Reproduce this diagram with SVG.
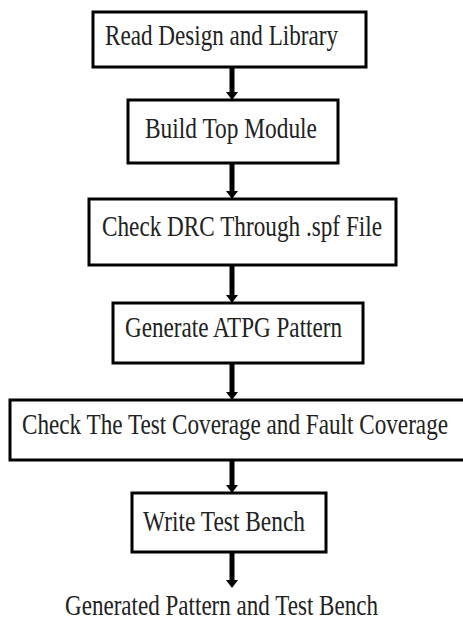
<svg xmlns="http://www.w3.org/2000/svg" width="463" height="622" viewBox="0 0 463 622">
<style>
.box{fill:#fff;stroke:#000;stroke-width:3}
.t{font-family:"Liberation Serif","Times New Roman",serif;font-size:30px;fill:#222}
.c{stroke:#000;stroke-width:5;fill:none}
</style>
<defs>
<marker id="ah" markerWidth="1.6" markerHeight="2.4" refX="0" refY="1.2" orient="auto" markerUnits="strokeWidth">
<path d="M0,0 L1.6,1.2 L0,2.4 Z" fill="#000"/>
</marker>
</defs>
<rect width="463" height="622" fill="#fff"/>
<g id="connectors">
<line class="c" x1="232" y1="67" x2="232" y2="92" marker-end="url(#ah)"/>
<line class="c" x1="232" y1="163" x2="232" y2="191" marker-end="url(#ah)"/>
<line class="c" x1="232" y1="265" x2="232" y2="295" marker-end="url(#ah)"/>
<line class="c" x1="232" y1="363" x2="232" y2="392" marker-end="url(#ah)"/>
<line class="c" x1="232" y1="460" x2="232" y2="485" marker-end="url(#ah)"/>
<line class="c" x1="232" y1="552" x2="232" y2="580" marker-end="url(#ah)"/>
</g>
<g id="n1"><rect class="box" x="93" y="12" width="273" height="55"/>
<text class="t" x="105" y="45" textLength="233" lengthAdjust="spacingAndGlyphs">Read Design and Library</text></g>
<g id="n2"><rect class="box" x="128" y="100" width="210" height="63"/>
<text class="t" x="145" y="138" textLength="172" lengthAdjust="spacingAndGlyphs">Build Top Module</text></g>
<g id="n3"><rect class="box" x="89" y="199" width="307" height="66"/>
<text class="t" x="102" y="236" textLength="280" lengthAdjust="spacingAndGlyphs">Check DRC Through .spf File</text></g>
<g id="n4"><rect class="box" x="113" y="303" width="250" height="60"/>
<text class="t" x="125" y="337" textLength="217" lengthAdjust="spacingAndGlyphs">Generate ATPG Pattern</text></g>
<g id="n5"><rect class="box" x="10" y="400" width="460" height="60"/>
<text class="t" x="22" y="434" textLength="426" lengthAdjust="spacingAndGlyphs">Check The Test Coverage and Fault Coverage</text></g>
<g id="n6"><rect class="box" x="132" y="493" width="194" height="59"/>
<text class="t" x="143" y="531" textLength="162" lengthAdjust="spacingAndGlyphs">Write Test Bench</text></g>
<g id="out"><text class="t" x="65" y="615" textLength="313" lengthAdjust="spacingAndGlyphs">Generated Pattern and Test Bench</text></g>
</svg>
